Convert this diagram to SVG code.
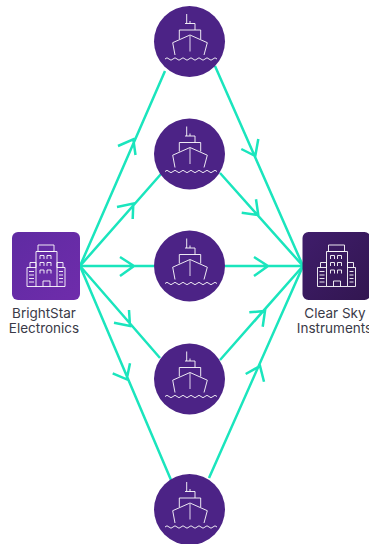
<svg xmlns="http://www.w3.org/2000/svg" width="369" height="544" viewBox="0 0 369 544">
<style>
.c{fill:none;stroke:#1ae5bd;stroke-width:2.500;stroke-linejoin:miter}
.i{fill:none;stroke:#fff;stroke-width:.9}
.t{font-family:"Inter","Liberation Sans",sans-serif;font-size:13.500px;fill:#3a3a48;text-anchor:middle}
.s{fill:#4c2386}
</style>
<defs>
<linearGradient id="g1" x1="0" y1="0" x2="1" y2="1"><stop offset="0" stop-color="#5f2ba2"/><stop offset="1" stop-color="#6f2cab"/></linearGradient>
<linearGradient id="g2" x1="0" y1="0" x2="1" y2="1"><stop offset="0" stop-color="#3f1d6b"/><stop offset="1" stop-color="#321650"/></linearGradient>
<symbol id="ship" overflow="visible">
<path class="i" d="M-2.800-27.500V-18M.5-20.500V-18M-4.500-18H5.500V-11.500H-10.200V-2.500M5.500-11.500H11.200V-2.500M-14.500 13.500L-16.800 1.200L.5-6.500L17.800 1.200L14.500 13.500"/>
<path d="M.5-6.500V10" fill="none" stroke="#c9b8dc" stroke-width="1.200"/>
<path class="i" d="M-24.500 17.500q2-2.400 4 0t4 0q2-2.400 4 0t4 0q2-2.400 4 0t4 0q2-2.400 4 0t4 0q2-2.400 4 0t4 0q2-2.400 4 0t4 0q2-2.400 4 0"/>
</symbol>
<symbol id="bld" overflow="visible">
<path class="i" d="M-6-21H10V-14.500H-6ZM-8-14.500H13V20.500H-8ZM-8 1.500H-17V20.500H-8M-8 1.500V-3.500H-14V1.500M13 1.500H21V20.500H13M13 1.500V-3.500H19V1.500M-1 20.500V15H6V20.500"/>
<path class="i" d="M-4-7V-10.500H0V-7M3-7V-10.500H7V-7M-4 0V-3.500H0V0M3 0V-3.500H7V0M-4 7.500V4H0V7.500M3 7.500V4H7V7.500"/>
<path class="i" d="M-15 5.500H-10M-15 9H-10M-15 12.500H-10M-15 16H-10M15 5.500H19M15 9H19M15 12.500H19M15 16H19"/>
</symbol>
</defs>
<g id="connectors">
<path class="c" d="M80 266L165 71M118 146L133.300 139.300L135.500 155"/>
<path class="c" d="M80 266L161 174M117 207L133.300 203.500L132.700 219"/>
<path class="c" d="M80 266H154M120 257L134 266L120 276"/>
<path class="c" d="M80 266L160 358M114 322.700L130 326L129 310"/>
<path class="c" d="M80 266L171 480M112.700 373.300L126.700 379.300L130 363.300"/>
<path class="c" d="M215 66L303 266M241.300 149L255.300 156L258.300 139"/>
<path class="c" d="M220 173L303 266M241.700 212.700L258.300 215L256 199.300"/>
<path class="c" d="M225 266H303M254 257L268 266L254 276"/>
<path class="c" d="M220 360L303 266M249.300 312.300L265 311L262.700 326.700"/>
<path class="c" d="M209 478L303 266M245.700 374L260 366L264 381.700"/>
</g>
<g id="ship1"><circle class="s" cx="189.500" cy="41.500" r="35.500"/><use href="#ship" x="189.500" y="41.500"/></g>
<g id="ship2"><circle class="s" cx="189.500" cy="154" r="35.500"/><use href="#ship" x="189.500" y="154"/></g>
<g id="ship3"><circle class="s" cx="189.500" cy="266" r="35.500"/><use href="#ship" x="189.500" y="266"/></g>
<g id="ship4"><circle class="s" cx="189.500" cy="379" r="35.500"/><use href="#ship" x="189.500" y="379"/></g>
<g id="ship5"><circle class="s" cx="189.500" cy="509.500" r="35.500"/><use href="#ship" x="189.500" y="509.500"/></g>
<g id="brightstar">
<rect x="12" y="232" width="68" height="68" rx="6" fill="url(#g1)"/>
<use href="#bld" x="44" y="266"/>
<text class="t" x="44" y="318">BrightStar</text>
<text class="t" x="44" y="333">Electronics</text>
</g>
<g id="clearsky">
<rect x="302.500" y="232" width="68" height="68" rx="6" fill="url(#g2)"/>
<use href="#bld" x="334.500" y="266"/>
<text class="t" x="335" y="318">Clear Sky</text>
<text class="t" x="334.500" y="333">Instruments</text>
</g>
</svg>
